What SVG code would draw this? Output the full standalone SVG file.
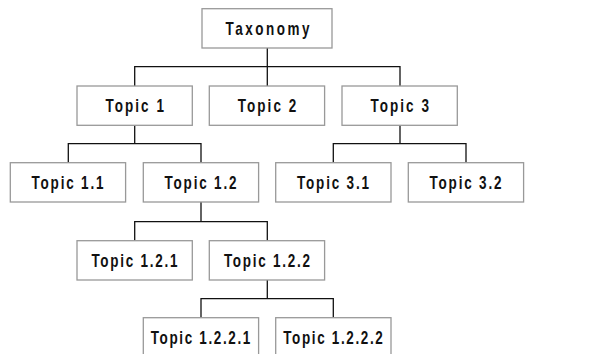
<svg xmlns="http://www.w3.org/2000/svg" width="600" height="354" viewBox="0 0 600 354">
<style>
.box{fill:#fff;stroke:#999;stroke-width:1.3}
.lbl{font-family:"Liberation Sans",Arial,sans-serif;font-weight:bold;font-size:18px;fill:#111;text-anchor:middle}
.con{fill:none;stroke:#111;stroke-width:1.3}
</style>
<rect width="600" height="354" fill="#fff"/>
<g id="connectors" class="con">
<path d="M267.3 48V66.7M134.7 86V66.7H400V86M267.3 66.7V86"/>
<path d="M134.7 125.3V143.7M68.3 163V143.7H201V163"/>
<path d="M400 125.3V143.7M333.3 163V143.7H466V163"/>
<path d="M201 202V221.7M134.7 241V221.7H267.3V241"/>
<path d="M267.3 280V298.7M201 318V298.7H333.3V318"/>
</g>
<g id="taxonomy"><rect class="box" x="202" y="8.7" width="130" height="39.3"/><text class="lbl" transform="translate(267.5 34.5) scale(0.75 1)" textLength="112" lengthAdjust="spacing">Taxonomy</text></g>
<g id="topic1"><rect class="box" x="77" y="86" width="115.3" height="39.3"/><text class="lbl" transform="translate(134.7 111.8) scale(0.75 1)" textLength="78" lengthAdjust="spacing">Topic 1</text></g>
<g id="topic2"><rect class="box" x="209.3" y="86" width="115.3" height="39.3"/><text class="lbl" transform="translate(267 111.8) scale(0.75 1)" textLength="78" lengthAdjust="spacing">Topic 2</text></g>
<g id="topic3"><rect class="box" x="342" y="86" width="115.3" height="39.3"/><text class="lbl" transform="translate(399.7 111.8) scale(0.75 1)" textLength="78" lengthAdjust="spacing">Topic 3</text></g>
<g id="topic1_1"><rect class="box" x="10.3" y="162.7" width="115.3" height="39.3"/><text class="lbl" transform="translate(67.5 188.6) scale(0.75 1)" textLength="96" lengthAdjust="spacing">Topic 1.1</text></g>
<g id="topic1_2"><rect class="box" x="143.3" y="162.7" width="115.3" height="39.3"/><text class="lbl" transform="translate(200.5 188.6) scale(0.75 1)" textLength="96" lengthAdjust="spacing">Topic 1.2</text></g>
<g id="topic3_1"><rect class="box" x="275.7" y="162.7" width="115.3" height="39.3"/><text class="lbl" transform="translate(333 188.6) scale(0.75 1)" textLength="96" lengthAdjust="spacing">Topic 3.1</text></g>
<g id="topic3_2"><rect class="box" x="408.3" y="162.7" width="115.3" height="39.3"/><text class="lbl" transform="translate(465.5 188.6) scale(0.75 1)" textLength="96" lengthAdjust="spacing">Topic 3.2</text></g>
<g id="topic1_2_1"><rect class="box" x="77" y="240.7" width="115.3" height="39.3"/><text class="lbl" transform="translate(134.5 266.6) scale(0.75 1)" textLength="115" lengthAdjust="spacing">Topic 1.2.1</text></g>
<g id="topic1_2_2"><rect class="box" x="209.3" y="240.7" width="115.3" height="39.3"/><text class="lbl" transform="translate(267 266.6) scale(0.75 1)" textLength="115" lengthAdjust="spacing">Topic 1.2.2</text></g>
<g id="topic1_2_2_1"><rect class="box" x="143.3" y="317.7" width="115.3" height="39.3"/><text class="lbl" transform="translate(200.5 343.6) scale(0.75 1)" textLength="133" lengthAdjust="spacing">Topic 1.2.2.1</text></g>
<g id="topic1_2_2_2"><rect class="box" x="275.7" y="317.7" width="115.3" height="39.3"/><text class="lbl" transform="translate(333 343.6) scale(0.75 1)" textLength="133" lengthAdjust="spacing">Topic 1.2.2.2</text></g>
</svg>
